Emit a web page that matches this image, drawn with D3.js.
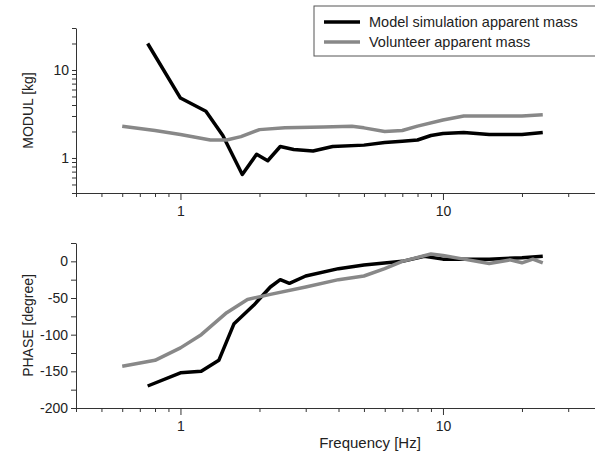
<!DOCTYPE html>
<html><head><meta charset="utf-8">
<script src="https://cdn.jsdelivr.net/npm/d3@7"></script>
<style>body{margin:0;background:#fff}text{font-family:"Liberation Sans",Arial,sans-serif;fill:#222}</style>
</head><body><svg id="c" width="595" height="467"></svg>
<script>
var freqModelMod = [0.75, 1.0, 1.25, 1.45, 1.72, 1.95, 2.15, 2.4, 2.7, 3.2, 3.8, 5, 6, 7, 8, 9, 10, 12, 15, 20, 24];
var modelMod = [20, 4.8, 3.4, 1.8, 0.65, 1.1, 0.93, 1.35, 1.25, 1.2, 1.35, 1.4, 1.5, 1.55, 1.6, 1.8, 1.9, 1.95, 1.85, 1.85, 1.95];
var freqVolMod = [0.6, 0.8, 1.0, 1.3, 1.5, 1.7, 2.0, 2.5, 3.5, 4.5, 5, 6, 7, 8, 10, 12, 15, 20, 24];
var volMod = [2.3, 2.05, 1.85, 1.6, 1.6, 1.75, 2.1, 2.2, 2.25, 2.3, 2.2, 2.0, 2.05, 2.3, 2.7, 3.0, 3.0, 3.0, 3.1];
var freqModelPh = [0.75, 1.0, 1.2, 1.4, 1.6, 1.9, 2.2, 2.4, 2.6, 3, 4, 5, 7, 8.5, 10, 15, 20, 24];
var modelPh = [-170, -152, -150, -135, -85, -60, -35, -25, -30, -20, -10, -5, 0, 7, 3, 3, 5, 7];
var freqVolPh = [0.6, 0.8, 1.0, 1.2, 1.5, 1.8, 2.2, 3, 4, 5, 6, 7, 9, 10, 12, 15, 18, 20, 22, 24];
var volPh = [-143, -135, -118, -100, -70, -52, -45, -35, -25, -20, -10, 0, 10, 8, 3, -3, 2, -2, 3, -2];
var seriesNames = ["Model simulation apparent mass", "Volunteer apparent mass"];
var colors = ["#000", "#888"];

var svg = d3.select("#c");
var x = d3.scaleLog().domain([0.4, 40]).range([76, 601]);
var yTop = d3.scaleLog().domain([0.4, 30]).range([193, 28]);
var yBot = d3.scaleLinear().domain([-200, 25]).range([408, 243]);

function drawPanel(y, axisY, yAxis, label, series) {
  var g = svg.append("g");
  var ax = d3.axisBottom(x).tickValues([0.4,0.5,0.6,0.7,0.8,0.9,1,2,3,4,5,6,7,8,9,10,20,30,40])
    .tickFormat(function (d) { return d === 1 || d === 10 ? d : ""; }).tickSizeInner(4).tickSizeOuter(0);
  var gx = g.append("g").attr("transform", "translate(0," + axisY + ")").call(ax);
  gx.selectAll(".tick").filter(function (d) { return d === 1 || d === 10; }).select("line").attr("y2", 7);
  gx.selectAll("text").attr("font-size", 14).attr("dy", "1.15em");
  var gy = g.append("g").attr("transform", "translate(76,0)").call(yAxis);
  gy.selectAll("text").attr("font-size", 14);
  g.selectAll(".domain").attr("stroke", "#333");
  g.selectAll(".tick line").attr("stroke", "#333");
  var midY = (y.range()[0] + y.range()[1]) / 2;
  g.append("text").attr("transform", "translate(33," + midY + ") rotate(-90)")
    .attr("text-anchor", "middle").attr("font-size", 14).text(label);
  var line = d3.line().x(function (d) { return x(d[0]); }).y(function (d) { return y(d[1]); });
  series.forEach(function (s, i) {
    g.append("path").datum(d3.zip(s[0], s[1])).attr("d", line).attr("fill", "none")
      .attr("stroke", colors[i]).attr("stroke-width", 3.5).attr("stroke-linejoin", "round");
  });
}

drawPanel(yTop, 193,
  d3.axisLeft(yTop).tickValues([0.4,0.5,0.6,0.7,0.8,0.9,1,2,3,4,5,6,7,8,9,10,20,30])
    .tickFormat(function (d) { return d === 1 || d === 10 ? d : ""; }).tickSizeInner(4).tickSizeOuter(0),
  "MODUL [kg]", [[freqModelMod, modelMod], [freqVolMod, volMod]]);
drawPanel(yBot, 408,
  d3.axisLeft(yBot).tickValues(d3.range(-200, 26, 25))
    .tickFormat(function (d) { return d % 50 === 0 ? d : ""; }).tickSizeInner(5).tickSizeOuter(0),
  "PHASE [degree]", [[freqModelPh, modelPh], [freqVolPh, volPh]]);

svg.append("text").attr("x", 370).attr("y", 448).attr("text-anchor", "middle")
  .attr("font-size", 15).text("Frequency [Hz]");

var lg = svg.append("g");
lg.append("rect").attr("x", 314).attr("y", 6).attr("width", 290).attr("height", 50)
  .attr("fill", "#fff").attr("stroke", "#555");
seriesNames.forEach(function (n, i) {
  var yy = 22 + i * 20;
  lg.append("line").attr("x1", 324).attr("x2", 360).attr("y1", yy).attr("y2", yy)
    .attr("stroke", colors[i]).attr("stroke-width", 3.5);
  lg.append("text").attr("x", 369).attr("y", yy + 5).attr("font-size", 14.5).text(n);
});
</script></body></html>
